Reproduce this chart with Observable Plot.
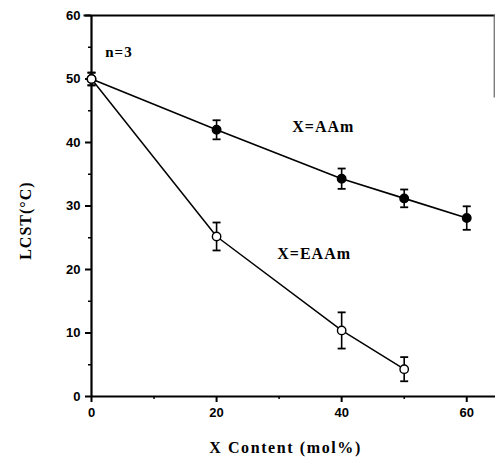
<!DOCTYPE html>
<html>
<head>
<meta charset="utf-8">
<script src="https://cdn.jsdelivr.net/npm/d3@7"></script>
<script src="https://cdn.jsdelivr.net/npm/@observablehq/plot@0.6"></script>
<style>
  html, body { margin: 0; padding: 0; background: #fff; }
</style>
</head>
<body>
<div id="chart"></div>
<script>
// X content (mol%) for each copolymer series
const aamContent = [0, 20, 40, 50, 60];
const aamLCST = [50, 42, 34.3, 31.2, 28.1];
const aamErr = [1, 1.5, 1.6, 1.4, 1.85];

const eaamContent = [0, 20, 40, 50];
const eaamLCST = [50, 25.2, 10.4, 4.3];
const eaamErr = [1, 2.2, 2.85, 1.9];

const xTicks = [0, 20, 40, 60];
const xMinor = [10, 30, 50];
const yTicks = [0, 10, 20, 30, 40, 50, 60];
const yMinor = [5, 15, 25, 35, 45, 55];

const aam = aamContent.map((x, i) => ({x, y: aamLCST[i], e: aamErr[i]}));
const eaam = eaamContent.map((x, i) => ({x, y: eaamLCST[i], e: eaamErr[i]}));
const all = [...aam, ...eaam];

// horizontal cap symbol for the error bars
const cap = {
  draw(context, size) {
    const w = 4;
    context.moveTo(-w, 0);
    context.lineTo(w, 0);
  }
};

const serif = "'Liberation Serif', 'Times New Roman', serif";
const sans = "'Liberation Sans', Arial, sans-serif";

const chart = Plot.plot({
  width: 496,
  height: 464,
  marginLeft: 91,
  marginRight: 1,
  marginTop: 15,
  marginBottom: 68,
  x: {domain: [0, 64.6]},
  y: {domain: [0, 60]},
  style: {background: "#fff", color: "#000"},
  marks: [
    Plot.axisX(xTicks, {tickSize: 6, strokeWidth: 2, tickPadding: 5, fontSize: 13, fontWeight: "bold", fontFamily: sans, label: null}),
    Plot.axisX(xMinor, {tickSize: 3, strokeWidth: 1.5, text: null, label: null}),
    Plot.axisY(yTicks, {tickSize: 6, strokeWidth: 2, tickPadding: 5, fontSize: 13, fontWeight: "bold", fontFamily: sans, label: null}),
    Plot.axisY(yMinor, {tickSize: 3, strokeWidth: 1.5, text: null, label: null}),
    // frame: bottom, left and top edges, and the faint right edge
    Plot.ruleY([0], {strokeWidth: 2.2}),
    Plot.ruleX([0], {strokeWidth: 2.2}),
    Plot.ruleY([60], {x1: -1.2, x2: 64.6, strokeWidth: 2}),
    Plot.ruleX([64.4], {y1: 47, y2: 60, stroke: "#666", strokeWidth: 1.2}),
    // series lines
    Plot.line(aam, {x: "x", y: "y", stroke: "#000", strokeWidth: 1.6}),
    Plot.line(eaam, {x: "x", y: "y", stroke: "#000", strokeWidth: 1.5}),
    // error bars
    Plot.ruleX(all, {x: "x", y1: d => d.y - d.e, y2: d => d.y + d.e, stroke: "#000", strokeWidth: 1.6}),
    Plot.dot(all, {x: "x", y: d => d.y - d.e, symbol: cap, stroke: "#000", strokeWidth: 1.8}),
    Plot.dot(all, {x: "x", y: d => d.y + d.e, symbol: cap, stroke: "#000", strokeWidth: 1.8}),
    // markers: filled for AAm, open for EAAm
    Plot.dot(aam, {x: "x", y: "y", r: 4.2, fill: "#000", stroke: "#000"}),
    Plot.dot(eaam, {x: "x", y: "y", r: 4.2, fill: "#fff", stroke: "#000", strokeWidth: 1.4}),
    // annotations
    Plot.text(["n=3"], {x: 2.2, y: 54.2, text: d => d, textAnchor: "start", fontSize: 15, fontWeight: "bold", fontFamily: serif}),
    Plot.text(["X=AAm"], {x: 32.1, y: 42.4, text: d => d, textAnchor: "start", fontSize: 16, fontWeight: "bold", fontFamily: serif}),
    Plot.text(["X=EAAm"], {x: 29.7, y: 22.5, text: d => d, textAnchor: "start", fontSize: 16, fontWeight: "bold", fontFamily: serif}),
    // axis titles
    Plot.text(["LCST(°C)"], {x: 0, y: 27.7, text: d => d, rotate: -90, dx: -66, fontSize: 16, fontWeight: "bold", fontFamily: serif}),
    Plot.text(["X Content (mol%)"], {frameAnchor: "bottom", text: d => d, dx: -8, dy: 56, fontSize: 16, fontWeight: "bold", fontFamily: serif})
  ]
});

// slightly spaced lettering on the serif labels
d3.select(chart).selectAll("text")
  .filter(function () { return /LCST|AAm|n=3/.test(this.textContent); })
  .attr("letter-spacing", "1px");
d3.select(chart).selectAll("text")
  .filter(function () { return /Content/.test(this.textContent); })
  .attr("letter-spacing", "1.6px");

document.getElementById("chart").appendChild(chart);
</script>
</body>
</html>
